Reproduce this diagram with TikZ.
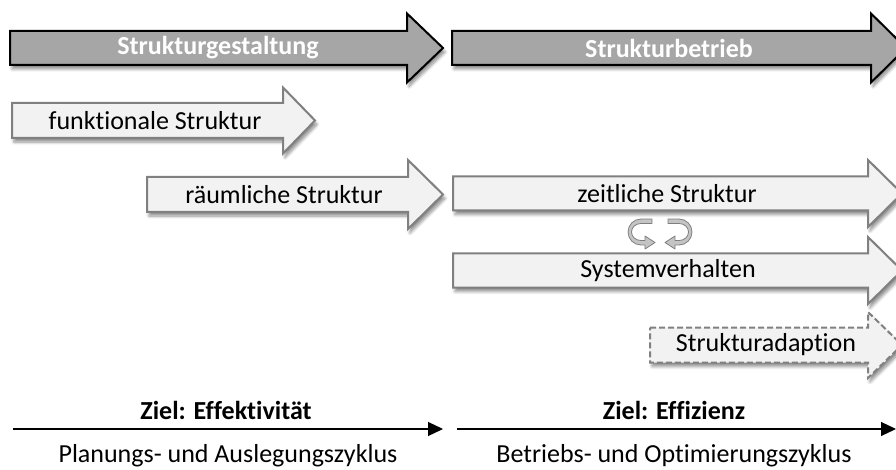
\documentclass[tikz,border=0pt]{standalone}
\usepackage{fontspec}
\setmainfont[Ligatures=NoCommon]{Carlito}
\usetikzlibrary{arrows.meta,shadows.blur}

\definecolor{phasefill}{HTML}{A6A6A6}
\definecolor{stepfill}{HTML}{F2F2F2}
\definecolor{stepline}{HTML}{808080}
\definecolor{loopfill}{HTML}{C4C4C4}
\definecolor{loopline}{HTML}{7F7F7F}

\tikzset{
  softshadow/.style={blur shadow={shadow xshift=2pt, shadow yshift=-4pt,
      shadow blur steps=6, shadow blur radius=3pt, shadow opacity=45}},
  phasearrow/.style={fill=phasefill, draw=black, line width=2pt,
      line join=miter, softshadow},
  steparrow/.style={fill=stepfill, draw=stepline, line width=2pt,
      line join=miter, softshadow},
  optarrow/.style={steparrow, dash pattern=on 6pt off 3pt},
  phaselabel/.style={text=white, font=\fontsize{26}{30}\selectfont\bfseries},
  steplabel/.style={text=black, font=\fontsize{26}{30}\selectfont},
  goallabel/.style={text=black, font=\fontsize{26}{30}\selectfont\bfseries},
  cyclelabel/.style={text=black, font=\fontsize{26}{30}\selectfont},
  timeline/.style={draw=black, line width=1.2pt,
      -{Triangle[length=15pt, width=14pt]}},
  loopribbon/.style={fill=loopfill, draw=loopline, line width=0.8pt,
      line join=round}
}

% block arrow: [style]{left}{head start}{tip}{centre y}{half body}{half head}
\newcommand{\blockarrow}[7][]{%
  \path[#1] (#2,{#5-#6}) -- (#3,{#5-#6}) -- (#3,{#5-#7}) -- (#4,#5)
    -- (#3,{#5+#7}) -- (#3,{#5+#6}) -- (#2,{#5+#6}) -- cycle;}

\begin{document}
\begin{tikzpicture}[x=1pt, y=-1pt]
  \useasboundingbox (0,0) rectangle (896,470);

  % phases
  \blockarrow[phasearrow]{10}{407}{443}{48}{17}{34.5}
  \blockarrow[phasearrow]{452}{871}{906}{48}{17}{34.5}
  \node[phaselabel] (gestaltung) at (218,48) {Strukturgestaltung};
  \node[phaselabel] (betrieb) at (669,48) {Strukturbetrieb};

  % structure views
  \blockarrow[steparrow]{12}{283}{315}{120.5}{17.5}{33}
  \node[steplabel] (funktional) at (155,120.5) {funktionale Struktur};

  \blockarrow[steparrow]{147}{408}{443}{194.5}{17.5}{34.5}
  \node[steplabel] (raeumlich) at (284,194.5) {räumliche Struktur};

  \blockarrow[steparrow]{453}{868}{902}{193.5}{17}{33.5}
  \node[steplabel] (zeitlich) at (667,193.5) {zeitliche Struktur};

  \blockarrow[steparrow]{453}{868}{902}{270.5}{17}{33.5}
  \node[steplabel] (verhalten) at (668,270.5) {Systemverhalten};

  \blockarrow[optarrow]{650}{868}{902}{345}{17.5}{33}
  \node[steplabel] (adaption) at (766,345) {Strukturadaption};

  % interaction loop between temporal structure and behaviour
  \path[loopribbon] (652,219) -- (641,219)
      arc[start angle=270, end angle=90, x radius=13, y radius=13]
      -- (645,245) -- (645,249) -- (655,242.5) -- (645,236) -- (645,240.5)
      -- (641,240.5)
      arc[start angle=90, end angle=270, x radius=9.5, y radius=8.5]
      -- (652,223.5) -- cycle;
  \path[loopribbon] (668,219) -- (679,219)
      arc[start angle=-90, end angle=90, x radius=13, y radius=13]
      -- (675,245) -- (675,249) -- (665,242.5) -- (675,236) -- (675,240.5)
      -- (679,240.5)
      arc[start angle=90, end angle=-90, x radius=9.5, y radius=8.5]
      -- (668,223.5) -- cycle;

  % cycles and goals
  \coordinate (planA) at (13,429);
  \coordinate (planB) at (443,429);
  \coordinate (opA) at (457,429);
  \coordinate (opB) at (896,429);
  \draw[timeline] (planA) -- (planB);
  \draw[timeline] (opA) -- (opB);

  \node[goallabel] (ziel1) at (226,410) {Ziel: Effektivität};
  \node[cyclelabel] (zyklus1) at (228,456) {Planungs- und Auslegungszyklus};
  \node[goallabel] (ziel2) at (674,410) {Ziel: Effizienz};
  \node[cyclelabel] (zyklus2) at (674,456) {Betriebs- und Optimierungszyklus};
\end{tikzpicture}
\end{document}
